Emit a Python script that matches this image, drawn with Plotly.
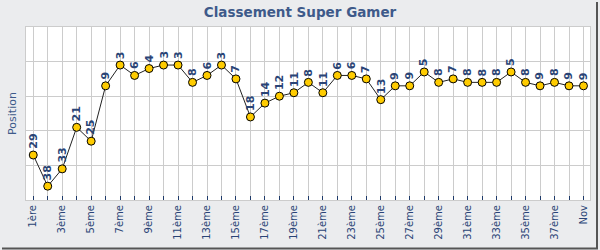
import plotly.graph_objects as go

categories = ["1ère"] + [f"{i}ème" for i in range(2, 39)] + ["Nov"]
positions = [29, 38, 33, 21, 25, 9, 3, 6, 4, 3, 3, 8, 6, 3, 7, 18, 14, 12, 11, 8,
             11, 6, 6, 7, 13, 9, 9, 5, 8, 7, 8, 8, 8, 5, 8, 9, 8, 9, 9]
tick_text = [c if i % 2 == 0 else "" for i, c in enumerate(categories)]

BG = "#EBECEE"
BLUE = "#2A4476"
TITLE = "#3E5A8A"

fig = go.Figure()
fig.add_trace(go.Scatter(
    x=categories, y=positions, mode="lines+markers",
    line=dict(color="#222222", width=1),
    marker=dict(color="#FFCC00", size=8, line=dict(color="#000000", width=1)),
    hoverinfo="x+y", showlegend=False,
))

for c, v in zip(categories, positions):
    fig.add_annotation(x=c, y=v, text=f"<b>{v}</b>", textangle=-90, showarrow=False,
                       xanchor="center", yanchor="bottom", yshift=4,
                       font=dict(family="DejaVu Sans", size=11, color=BLUE))

L, R, T, B = 26, 10, 27, 50
W, H = 600, 250
pw, ph = W - L - R, H - T - B
fig.add_shape(type="line", xref="paper", yref="paper",
              x0=(597 - L) / pw, x1=(597 - L) / pw, y0=(T + ph - 2) / ph, y1=(T + ph - 249) / ph,
              line=dict(color="#555555", width=2))
fig.add_shape(type="line", xref="paper", yref="paper",
              x0=(2 - L) / pw, x1=(598 - L) / pw, y0=(T + ph - 248.5) / ph, y1=(T + ph - 248.5) / ph,
              line=dict(color="#555555", width=2))

fig.update_layout(
    width=W, height=H,
    margin=dict(l=L, r=R, t=T, b=B),
    paper_bgcolor=BG, plot_bgcolor="#FFFFFF",
    font=dict(family="DejaVu Sans", color=BLUE),
    title=dict(text="<b>Classement Super Gamer</b>", x=0.5, xanchor="center",
               y=1 - 12 / H, yanchor="middle",
               font=dict(family="DejaVu Sans", size=13.5, color=TITLE)),
    xaxis=dict(type="category", tickmode="array", tickvals=categories, ticktext=tick_text,
               tickangle=-90, tickfont=dict(size=10, color=BLUE),
               ticks="inside", ticklen=4, tickcolor="#1F3A6A", tickwidth=1,
               showgrid=True, gridcolor="#CCCCCC", gridwidth=1,
               showline=True, linecolor="#CCCCCC", mirror=True,
               range=[-0.5, 38.45], zeroline=False),
    yaxis=dict(range=[42, -8], tickmode="array", tickvals=[2, 12, 22, 32],
               showticklabels=False, showgrid=True, gridcolor="#CCCCCC",
               showline=True, linecolor="#CCCCCC", mirror=True, zeroline=False,
               title=dict(text="Position", standoff=6,
                          font=dict(family="DejaVu Sans", size=11, color=TITLE))),
)

fig.write_html("out.html")
